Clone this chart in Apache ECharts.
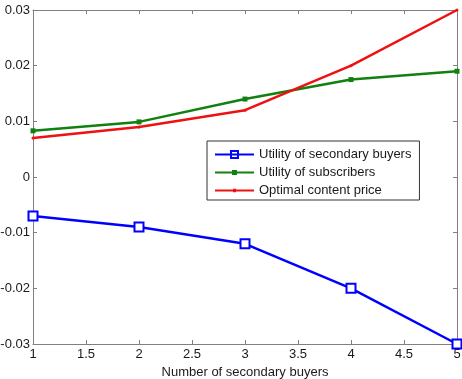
<!DOCTYPE html>
<html>
<head>
<meta charset="utf-8">
<script src="https://cdn.jsdelivr.net/npm/echarts@6/dist/echarts.min.js"></script>
<style>
  html, body { margin: 0; padding: 0; background: #fff; }
  #chart { width: 462px; height: 379px; }
</style>
</head>
<body>
<div id="chart"></div>
<script>
// number of secondary buyers
var buyers = [1, 2, 3, 4, 5];
var secondaryUtility = [-0.007, -0.009, -0.012, -0.020, -0.030];
var subscriberUtility = [0.0083, 0.0099, 0.014, 0.0175, 0.019];
var contentPrice = [0.007, 0.009, 0.012, 0.020, 0.030];

function pairs(ys) {
    return buyers.map(function (x, i) { return [x, ys[i]]; });
}

var font = 'Liberation Sans, Arial, sans-serif';
var axisGray = '#808080';
var labelColor = '#1a1a1a';

// legend icons: line with marker, like the matlab legend
var iconBlue = 'path://M0,4H15V6H0Z M24,4H39V6H24Z M15,0.5H24V9.5H15Z M17,2.5V7.5H22V2.5Z M17,4H22V6H17Z';
var iconGreen = 'path://M0,4H39V6H0Z M17,2.5H22V7.5H17Z';
var iconRed = 'path://M0,4H39V6H0Z M18,3.3H21V6.7H18Z';

var chart = echarts.init(document.getElementById('chart'));
var option = {
    animation: false,
    textStyle: { fontFamily: font },
    grid: { left: 33, right: 5, top: 10, bottom: 35, containLabel: false, outerBoundsMode: 'none' },
    legend: {
        orient: 'vertical',
        left: 207,
        top: 141,
        width: 209,
        padding: [7, 8, 3, 8],
        itemGap: 5,
        itemWidth: 39,
        itemHeight: 10,
        borderColor: '#333',
        borderWidth: 1,
        backgroundColor: '#fff',
        textStyle: { fontSize: 13, color: labelColor, fontFamily: font },
        data: [
            { name: 'Utility of secondary buyers', icon: iconBlue, itemStyle: { color: '#0000ff', borderWidth: 0 } },
            { name: 'Utility of subscribers', icon: iconGreen, itemStyle: { color: '#108010', borderWidth: 0 } },
            { name: 'Optimal content price', icon: iconRed, itemStyle: { color: '#ee1111', borderWidth: 0 } }
        ]
    },
    xAxis: [
        {
            type: 'value', min: 1, max: 5, interval: 0.5,
            name: 'Number of secondary buyers', nameLocation: 'middle', nameGap: 21,
            nameTextStyle: { fontSize: 13, color: labelColor },
            axisLine: { onZero: false, lineStyle: { color: axisGray, width: 1 } },
            axisTick: { inside: true, length: 4, lineStyle: { color: axisGray } },
            axisLabel: { fontSize: 13, color: labelColor, margin: 4 },
            splitLine: { show: false }
        },
        {
            type: 'value', min: 1, max: 5, interval: 0.5, position: 'top',
            axisLine: { onZero: false, lineStyle: { color: axisGray, width: 1 } },
            axisTick: { inside: true, length: 4, lineStyle: { color: axisGray } },
            axisLabel: { show: false },
            splitLine: { show: false }
        }
    ],
    yAxis: [
        {
            type: 'value', min: -0.03, max: 0.03, interval: 0.01,
            axisLine: { show: true, onZero: false, lineStyle: { color: axisGray, width: 1 } },
            axisTick: { show: true, inside: true, length: 4, lineStyle: { color: axisGray } },
            axisLabel: {
                fontSize: 13, color: labelColor, margin: 3,
                formatter: function (v) { return String(+v.toFixed(2)); }
            },
            splitLine: { show: false }
        },
        {
            type: 'value', min: -0.03, max: 0.03, interval: 0.01, position: 'right',
            axisLine: { show: true, onZero: false, lineStyle: { color: axisGray, width: 1 } },
            axisTick: { show: true, inside: true, length: 4, lineStyle: { color: axisGray } },
            axisLabel: { show: false },
            splitLine: { show: false }
        }
    ],
    series: [
        {
            name: 'Utility of secondary buyers', type: 'line',
            data: pairs(secondaryUtility),
            symbol: 'rect', symbolSize: 9,
            lineStyle: { color: '#0000ff', width: 2.5 },
            itemStyle: { color: '#fff', borderColor: '#0000ff', borderWidth: 2 },
            z: 3
        },
        {
            name: 'Utility of subscribers', type: 'line',
            data: pairs(subscriberUtility),
            symbol: 'rect', symbolSize: 5,
            lineStyle: { color: '#108010', width: 2.5 },
            itemStyle: { color: '#108010' },
            z: 2
        },
        {
            name: 'Optimal content price', type: 'line',
            data: pairs(contentPrice),
            symbol: 'circle', symbolSize: 3,
            lineStyle: { color: '#ee1111', width: 2.5 },
            itemStyle: { color: '#ee1111' },
            z: 4
        }
    ]
};
chart.setOption(option);
</script>
</body>
</html>
